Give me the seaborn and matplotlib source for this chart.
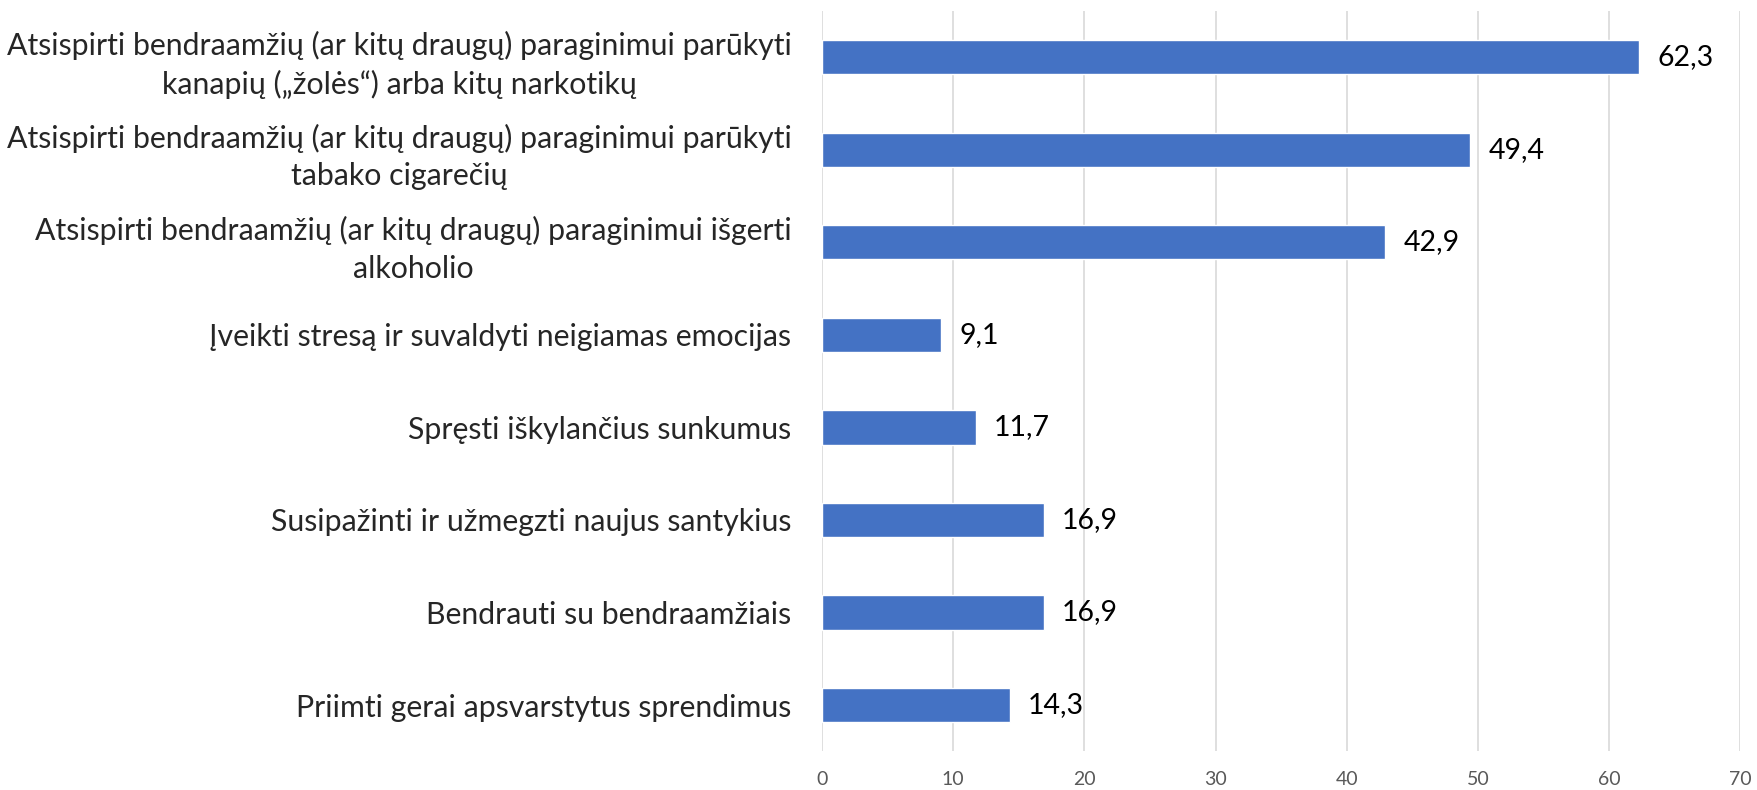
import pandas as pd
import matplotlib.pyplot as plt
import seaborn as sns

# Chart data
categories = [
    'Atsispirti bendraamžių (ar kitų draugų) paraginimui parūkyti\nkanapių („žolės“) arba kitų narkotikų',
    'Atsispirti bendraamžių (ar kitų draugų) paraginimui parūkyti\ntabako cigarečių',
    'Atsispirti bendraamžių (ar kitų draugų) paraginimui išgerti\nalkoholio',
    'Įveikti stresą ir suvaldyti neigiamas emocijas',
    'Spręsti iškylančius sunkumus',
    'Susipažinti ir užmegzti naujus santykius',
    'Bendrauti su bendraamžiais',
    'Priimti gerai apsvarstytus sprendimus',
]
values = [62.3, 49.4, 42.9, 9.1, 11.7, 16.9, 16.9, 14.3]
x_ticks = [0, 10, 20, 30, 40, 50, 60, 70]

df = pd.DataFrame({'category': categories, 'value': values})

sns.set_style('white')
plt.rcParams['font.family'] = ['Lato', 'DejaVu Sans']

fig = plt.figure(figsize=(17.58, 7.9), dpi=100)
ax = fig.add_axes([0.4676, 0.049, 0.5224, 0.937])

sns.barplot(data=df, x='value', y='category', color='#4472C4', width=0.37,
            saturation=1, ax=ax, zorder=3)

# Value labels
for i, v in enumerate(values):
    ax.text(v + 1.4, i, f'{v:.1f}'.replace('.', ','), va='center', ha='left',
            fontsize=20.5, color='black')

ax.set_xlim(0, 70)
ax.set_xticks(x_ticks)
ax.set_xticklabels([str(t) for t in x_ticks], fontsize=14, color='#595959')
ax.tick_params(axis='x', length=0, pad=14)
ax.tick_params(axis='y', length=0, pad=22, labelsize=21.8)
for lbl in ax.get_yticklabels():
    lbl.set_multialignment('center')
    lbl.set_linespacing(1.4)
ax.set_xlabel('')
ax.set_ylabel('')
ax.grid(axis='x', color='#D9D9D9', linewidth=1.2, zorder=0)
for s in ax.spines.values():
    s.set_visible(False)

plt.savefig('out.png', dpi=100)
plt.close()
